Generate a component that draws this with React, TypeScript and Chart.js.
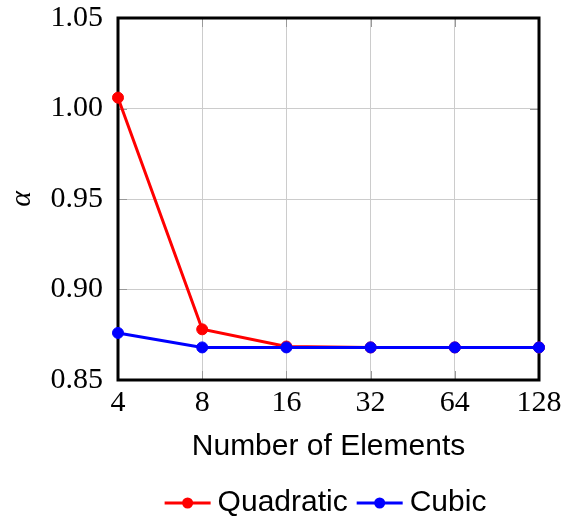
import React, { useEffect, useRef } from "react";
import { Chart, registerables } from "chart.js";

Chart.register(...registerables);

const categories = ["4", "8", "16", "32", "64", "128"];
const quadratic = [1.006, 0.878, 0.8685, 0.868, 0.868, 0.868];
const cubic = [0.876, 0.868, 0.868, 0.868, 0.868, 0.868];
const yTicks = [0.85, 0.9, 0.95, 1.0, 1.05];

const RED = "#ff0000";
const BLUE = "#0000ff";
const LEGEND_FONT = "30px 'Liberation Sans'";

const framePlugin = {
  id: "frame",
  beforeDatasetsDraw(chart: any) {
    const { ctx, chartArea } = chart;
    const { left, right, top, bottom } = chartArea;
    const xs = chart.scales.x;
    const ys = chart.scales.y;
    ctx.save();
    ctx.strokeStyle = "#999999";
    ctx.lineWidth = 1;
    const tl = 9;
    ctx.beginPath();
    xs.ticks.forEach((_t: any, i: number) => {
      const px = Math.round(xs.getPixelForTick(i)) + 0.5;
      ctx.moveTo(px, bottom);
      ctx.lineTo(px, bottom - tl);
      ctx.moveTo(px, top);
      ctx.lineTo(px, top + tl);
    });
    ys.ticks.forEach((_t: any, i: number) => {
      const py = Math.round(ys.getPixelForTick(i)) + 0.5;
      ctx.moveTo(left, py);
      ctx.lineTo(left + tl, py);
      ctx.moveTo(right, py);
      ctx.lineTo(right - tl, py);
    });
    ctx.stroke();
    ctx.strokeStyle = "#000000";
    ctx.lineWidth = 3;
    ctx.strokeRect(left, top, right - left, bottom - top);
    ctx.restore();
  },
};

const legendPlugin = {
  id: "lineLegend",
  afterDraw(chart: any) {
    const { ctx, chartArea } = chart;
    const sets = chart.data.datasets;
    ctx.save();
    ctx.font = LEGEND_FONT;
    const lineLen = 46;
    const gapText = 7;
    const gapItem = 9;
    const widths = sets.map((d: any) => ctx.measureText(d.label).width);
    let total = 0;
    widths.forEach((w: number, i: number) => {
      total += lineLen + gapText + w + (i < widths.length - 1 ? gapItem : 0);
    });
    const center = (chartArea.left + chartArea.right) / 2 - 3;
    let x = center - total / 2;
    const y = 503;
    sets.forEach((d: any, i: number) => {
      const c = d.borderColor;
      ctx.strokeStyle = c;
      ctx.lineWidth = 3;
      ctx.beginPath();
      ctx.moveTo(x, y);
      ctx.lineTo(x + lineLen, y);
      ctx.stroke();
      ctx.fillStyle = c;
      ctx.beginPath();
      ctx.arc(x + lineLen / 2, y, 5.5, 0, Math.PI * 2);
      ctx.fill();
      x += lineLen + gapText;
      ctx.fillStyle = "#000";
      ctx.textBaseline = "middle";
      ctx.textAlign = "left";
      ctx.fillText(d.label, x, y);
      x += widths[i] + gapItem;
    });
    ctx.restore();
  },
};

export default function App() {
  const ref = useRef<HTMLCanvasElement>(null);
  useEffect(() => {
    document.body.style.margin = "0";
    const chart = new Chart(ref.current!, {
      type: "line",
      data: {
        labels: categories,
        datasets: [
          {
            label: "Quadratic",
            data: quadratic,
            order: 1,
            borderColor: RED,
            backgroundColor: RED,
            borderWidth: 3,
            pointRadius: 5.5,
            pointBorderWidth: 1,
            pointBackgroundColor: RED,
            pointBorderColor: RED,
            tension: 0,
            clip: false as any,
          },
          {
            label: "Cubic",
            data: cubic,
            order: 0,
            borderColor: BLUE,
            backgroundColor: BLUE,
            borderWidth: 3,
            pointRadius: 5.5,
            pointBorderWidth: 1,
            pointBackgroundColor: BLUE,
            pointBorderColor: BLUE,
            tension: 0,
            clip: false as any,
          },
        ],
      },
      options: {
        responsive: false,
        animation: false,
        devicePixelRatio: 1,
        layout: { padding: { top: 18, right: 24, left: 0, bottom: 49 } },
        scales: {
          x: {
            type: "category",
            offset: false,
            grid: { color: "#cccccc", lineWidth: 1, drawTicks: false },
            border: { display: false },
            ticks: {
              color: "#000",
              padding: 0,
              maxRotation: 0,
              autoSkip: false,
              font: { family: "Liberation Serif", size: 30, lineHeight: 1.53 },
            },
            title: {
              display: true,
              text: "Number of Elements",
              color: "#000",
              font: { family: "Liberation Sans", size: 30 },
              padding: { top: 0, bottom: 13 },
            },
            afterFit: (s: any) => {
              s.height = 98;
            },
          },
          y: {
            min: 0.85,
            max: 1.05,
            afterBuildTicks: (s: any) => {
              s.ticks = yTicks.map((v) => ({ value: v }));
            },
            grid: { color: "#cccccc", lineWidth: 1, drawTicks: false },
            border: { display: false },
            ticks: {
              color: "#000",
              padding: 15,
              font: { family: "Liberation Serif", size: 30, lineHeight: 0.01 },
              callback: (v: any) => Number(v).toFixed(2),
            },
            title: {
              display: true,
              text: "α",
              color: "#000",
              font: { family: "Liberation Serif", size: 30, style: "italic" },
              padding: 4.5,
            },
            afterFit: (s: any) => {
              s.width = 118;
            },
          },
        },
        plugins: {
          legend: { display: false },
          tooltip: { enabled: false },
        },
      },
      plugins: [framePlugin, legendPlugin],
    });
    return () => chart.destroy();
  }, []);
  return <canvas ref={ref} width={563} height={527} style={{ display: "block" }} />;
}
